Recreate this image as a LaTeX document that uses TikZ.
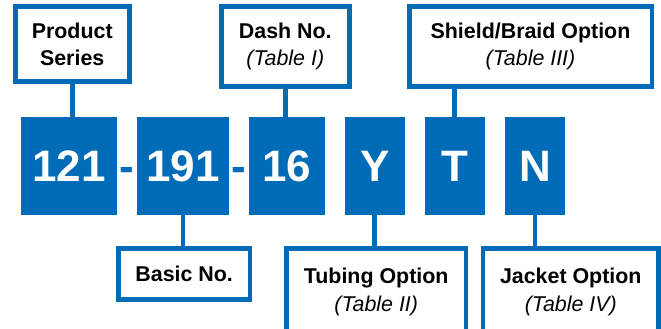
\documentclass[tikz,border=0pt]{standalone}
\usepackage{fontspec}
\setmainfont{Liberation Sans}
\usepackage{xcolor}
\usepackage{tikz}
\usetikzlibrary{positioning, calc}

\begin{document}
\begin{tikzpicture}[x=1pt, y=-1pt]
    % Định nghĩa màu sắc
    \definecolor{partblue}{RGB}{0, 108, 183}

    \tikzset{
        codebox/.style={fill=partblue, text=white, inner sep=0pt, minimum height=98.3pt,
            font=\fontsize{44}{44}\selectfont\bfseries},
        labelbox/.style={draw=partblue, line width=4.8pt, fill=white, inner sep=0pt, align=center,
            font=\fontsize{21.4}{27.5}\selectfont\bfseries},
        dashtxt/.style={text=partblue, inner sep=0pt, font=\fontsize{44}{44}\selectfont\bfseries},
        link/.style={draw=partblue, line width=4.8pt}
    }

    % Khung ảnh
    \useasboundingbox (0,0) rectangle (661,329);
    \clip (0,0) rectangle (661,329);

    % 1. Các ô mã số (màu xanh)
    \foreach \cx/\w/\name/\txt in {69.2/95.7/n121/121, 183/92/n191/191, 287/76/n16/16,
                                   374.8/59.7/nY/Y, 454.8/59.7/nT/T, 535/60/nN/N} {
        \node[codebox, minimum width=\w pt] (\name) at (\cx, 165.9) {\txt};
    }

    % 2. Dấu gạch nối giữa các ô
    \node[dashtxt, anchor=base] (dashA) at ($(n121.base east)!0.5!(n191.base west)$) {-};
    \node[dashtxt, anchor=base] (dashB) at ($(n191.base east)!0.5!(n16.base west)$) {-};

    % 3. Các nhãn ở trên
    \node[labelbox, minimum width=114.2pt, minimum height=74.9pt] (series) at (72.2, 44.2)
        {Product\\Series};
    \node[labelbox, minimum width=127.9pt, minimum height=79.6pt] (dashno) at (285.3, 46.5)
        {Dash No.\\\textit{\mdseries (Table I)}};
    \node[labelbox, minimum width=242.8pt, minimum height=79.6pt] (shield) at (530.5, 46.5)
        {Shield/Braid Option\\\textit{\mdseries (Table III)}};

    % 4. Các nhãn ở dưới
    \node[labelbox, minimum width=131.5pt, minimum height=50.9pt] (basic) at (184.2, 273.8)
        {Basic No.};
    \node[labelbox, minimum width=179.5pt, minimum height=87.2pt] (tubing) at (376.2, 292)
        {Tubing Option\\\textit{\mdseries (Table II)}};
    \node[labelbox, minimum width=175.5pt, minimum height=87.2pt] (jacket) at (570.8, 292)
        {Jacket Option\\\textit{\mdseries (Table IV)}};

    % 5. Đường nối nhãn với ô
    \draw[link] (series.south) -- (series.south |- n121.north);
    \draw[link] (dashno.south) -- (dashno.south |- n16.north);
    \draw[link] (nT.north) -- (nT.north |- shield.south);
    \draw[link] (n191.south) -- (n191.south |- basic.north);
    \draw[link] (nY.south) -- (nY.south |- tubing.north);
    \draw[link] (nN.south) -- (nN.south |- jacket.north);

\end{tikzpicture}
\end{document}
